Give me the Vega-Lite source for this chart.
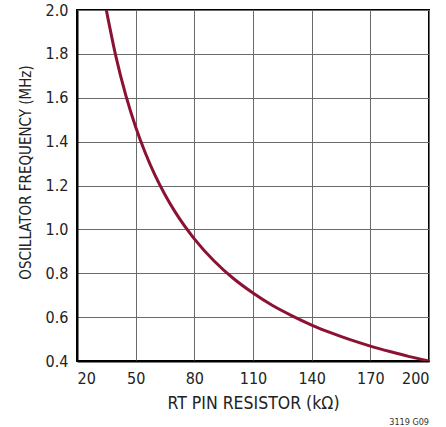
{
  "$schema": "https://vega.github.io/schema/vega-lite/v6.json",
  "width": 352,
  "height": 351,
  "autosize": {"type": "none"},
  "padding": {"left": 77, "top": 10, "right": 17, "bottom": 66},
  "background": "white",
  "title": {"text": "3119 G09", "orient": "bottom", "anchor": "end", "fontSize": 9, "font": "DejaVu Sans Condensed, Liberation Sans, sans-serif", "fontWeight": "normal", "color": "#333", "offset": 6},
  "data": {"values": [
    {"r": 35, "f": 2.0},
    {"r": 40, "f": 1.784},
    {"r": 45, "f": 1.61},
    {"r": 50, "f": 1.467},
    {"r": 55, "f": 1.347},
    {"r": 60, "f": 1.245},
    {"r": 65, "f": 1.158},
    {"r": 70, "f": 1.082},
    {"r": 80, "f": 0.957},
    {"r": 90, "f": 0.857},
    {"r": 100, "f": 0.776},
    {"r": 110, "f": 0.71},
    {"r": 120, "f": 0.653},
    {"r": 130, "f": 0.606},
    {"r": 140, "f": 0.564},
    {"r": 150, "f": 0.528},
    {"r": 160, "f": 0.496},
    {"r": 170, "f": 0.468},
    {"r": 180, "f": 0.443},
    {"r": 190, "f": 0.42},
    {"r": 200, "f": 0.4}
  ]},
  "mark": {"type": "line", "color": "#8B1232", "strokeWidth": 3, "interpolate": "monotone", "clip": true},
  "encoding": {
    "x": {"field": "r", "type": "quantitative", "scale": {"domain": [20, 200], "nice": false},
      "axis": {"values": [20, 50, 80, 110, 140, 170, 200], "title": "RT PIN RESISTOR (kΩ)"}},
    "y": {"field": "f", "type": "quantitative", "scale": {"domain": [0.4, 2.0], "nice": false, "zero": false},
      "axis": {"values": [0.4, 0.6, 0.8, 1.0, 1.2, 1.4, 1.6, 1.8, 2.0], "format": ".1f", "title": "OSCILLATOR FREQUENCY (MHz)"}}
  },
  "config": {
    "view": {"stroke": "#000", "strokeWidth": 2},
    "axis": {
      "labelFont": "DejaVu Sans Condensed, Liberation Sans, sans-serif", "labelFontSize": 16, "labelColor": "#222",
      "titleFont": "DejaVu Sans Condensed, Liberation Sans, sans-serif", "titleFontWeight": "normal", "titleColor": "#222",
      "grid": true, "gridColor": "#6a6a6a", "gridWidth": 1, "gridOpacity": 1,
      "domain": true, "domainColor": "#000", "domainWidth": 2,
      "ticks": false, "labelPadding": 9
    },
    "axisX": {"titlePadding": 8, "titleFontSize": 17.5},
    "axisY": {"titlePadding": 12, "titleFontSize": 15, "titleY": 162}
  }
}
